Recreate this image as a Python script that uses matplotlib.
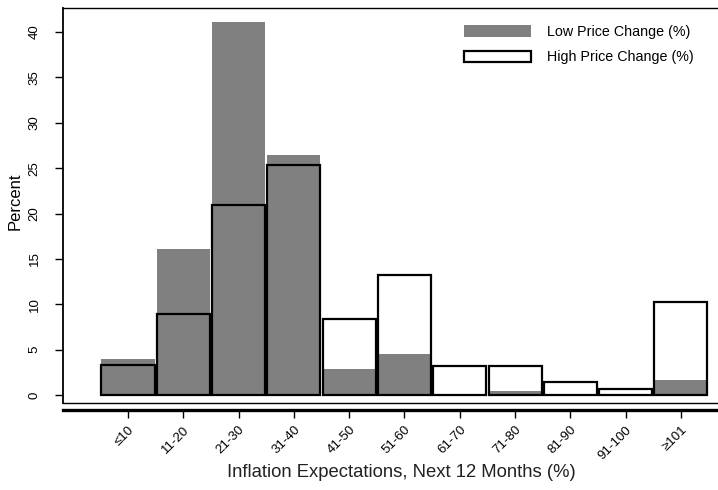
import numpy as np
import matplotlib
matplotlib.use('Agg')
import matplotlib.pyplot as plt

plt.rcParams['font.family'] = ['Liberation Sans', 'DejaVu Sans']

# inflation expectation bins
bins = ['≤10', '11-20', '21-30', '31-40', '41-50', '51-60',
        '61-70', '71-80', '81-90', '91-100', '≥101']
# percent of firms in each bin
low_change = [4.0, 16.1, 41.1, 26.4, 2.9, 4.5, 0.0, 0.4, 0.0, 0.1, 1.7]
high_change = [3.3, 8.9, 20.9, 25.4, 8.4, 13.2, 3.2, 3.2, 1.4, 0.7, 10.3]

fig = plt.figure(figsize=(7.18, 4.9), dpi=100)
ax = fig.add_axes([63/718, 87/490, 655/718, 395/490])

x = np.arange(len(bins))
ax.bar(x, low_change, width=0.96, color='#808080', edgecolor='none',
       label='Low Price Change (%)', zorder=2)
ax.bar(x, high_change, width=0.96, facecolor='none', edgecolor='black',
       linewidth=1.6, label='High Price Change (%)', zorder=3)

ax.set_xlim(-1.175, 10.67)
ax.set_ylim(-0.88, 42.65)

# frame: thin line at plot-region bottom, thick x axis just below
ax.plot([0, 1], [0, 0], color='black', lw=1, transform=ax.transAxes,
        clip_on=False, zorder=4)
ax.spines['right'].set_visible(False)
ax.spines['bottom'].set_position(('outward', 5))
ax.spines['bottom'].set_linewidth(2.4)
ax.spines['left'].set_linewidth(1.3)
ax.spines['top'].set_linewidth(1.0)

ax.set_yticks(range(0, 45, 5))
ax.tick_params(axis='y', length=6, width=1, labelsize=9.5, pad=10)
for lab in ax.get_yticklabels():
    lab.set_rotation(90)
    lab.set_va('center')

ax.set_xticks(x)
ax.set_xticklabels(bins, rotation=45, ha='right', rotation_mode='anchor',
                   fontsize=9.5)
ax.tick_params(axis='x', length=6, width=1, pad=4)

ax.set_ylabel('Percent', fontsize=12)
ax.yaxis.set_label_coords(-0.061, 0.51)
ax.set_xlabel('Inflation Expectations, Next 12 Months (%)', fontsize=13.3,
              color='#222222')
ax.xaxis.set_label_coords(0.517, -0.155)

ax.legend(loc='upper left', bbox_to_anchor=(0.612, 0.957), frameon=False,
          fontsize=10.3, handlelength=4.7, handleheight=0.85, labelspacing=0.8,
          handletextpad=1.1, borderpad=0, borderaxespad=0)

fig.savefig('out.png', dpi=100)
